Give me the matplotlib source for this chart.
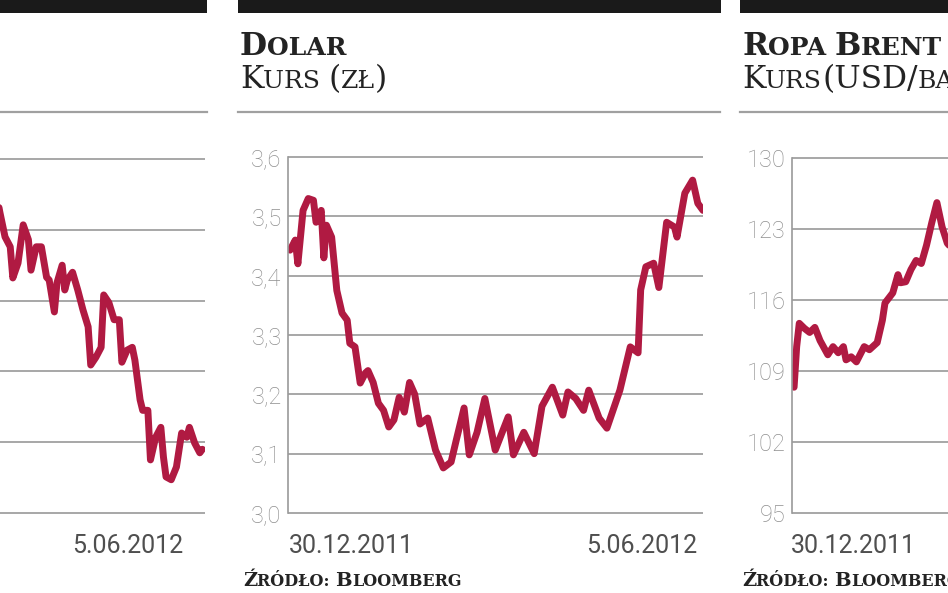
import matplotlib
matplotlib.use("Agg")
import matplotlib.pyplot as plt
from matplotlib.patches import Rectangle
from matplotlib.lines import Line2D

# ---------------- data (days since 30.12.2011) ----------------
left_days = [79, 80, 82, 84, 85, 87, 89, 91, 92, 94, 96, 98, 99, 101, 102, 104, 105, 106,
             108, 110, 112, 114, 115, 117, 119, 120, 122, 124, 126, 127, 129, 131, 132,
             134, 135, 137, 138, 140, 142, 143, 144, 146, 148, 150, 152, 153, 155, 157, 158]
left_values = [4.45, 4.25, 3.9, 3.76, 3.32, 3.53, 4.07, 3.86, 3.43, 3.76, 3.76, 3.33, 3.29,
               2.84, 3.25, 3.5, 3.15, 3.29, 3.4, 3.15, 2.87, 2.63, 2.09, 2.2, 2.34, 3.08,
               2.97, 2.73, 2.73, 2.13, 2.3, 2.34, 2.16, 1.6, 1.45, 1.45, 0.75, 1.07, 1.21,
               0.79, 0.51, 0.47, 0.65, 1.13, 1.07, 1.21, 0.99, 0.85, 0.9]
left_ticks = [0, 1, 2, 3, 4, 5]

usd_days = [0, 2, 3, 5, 7, 9, 10, 12, 13, 14, 16, 18, 20, 22, 23, 25, 27, 29, 30, 32, 34,
            36, 38, 40, 42, 44, 46, 48, 50, 53, 56, 59, 62, 64, 67, 69, 72, 75, 79, 84, 86,
            90, 94, 97, 101, 105, 107, 110, 113, 115, 119, 122, 127, 131, 134, 135, 137,
            140, 142, 145, 148, 149, 152, 155, 157, 159]
usd_values = [3.443, 3.46, 3.42, 3.51, 3.53, 3.527, 3.49, 3.51, 3.43, 3.485, 3.465, 3.375,
              3.337, 3.325, 3.286, 3.28, 3.219, 3.236, 3.24, 3.22, 3.185, 3.173, 3.145,
              3.157, 3.195, 3.17, 3.22, 3.2, 3.15, 3.16, 3.106, 3.076, 3.086, 3.123, 3.177,
              3.098, 3.136, 3.193, 3.106, 3.162, 3.098, 3.136, 3.1, 3.18, 3.212, 3.165,
              3.204, 3.193, 3.173, 3.207, 3.16, 3.143, 3.207, 3.28, 3.27, 3.376, 3.415,
              3.421, 3.38, 3.49, 3.482, 3.465, 3.539, 3.561, 3.522, 3.51]
usd_ticks = [3.0, 3.1, 3.2, 3.3, 3.4, 3.5, 3.6]
usd_labels = ["3,0", "3,1", "3,2", "3,3", "3,4", "3,5", "3,6"]

brent_days = [0, 1, 2, 4, 6, 8, 10, 13, 15, 17, 19, 20, 22, 24, 27, 29, 32, 34, 35, 38,
              40, 41, 43, 45, 47, 49, 51, 53, 55, 57, 59, 61]
brent_values = [107.4, 111.4, 113.7, 113.2, 112.8, 113.3, 112.0, 110.6, 111.4, 110.8,
                111.4, 110.1, 110.4, 109.9, 111.4, 111.1, 111.8, 114.0, 115.7, 116.7,
                118.5, 117.7, 117.8, 119.0, 119.9, 119.6, 121.4, 123.6, 125.6, 123.2,
                121.6, 121.0]
brent_ticks = [95, 102, 109, 116, 123, 130]

date_start = "30.12.2011"
date_end = "5.06.2012"

# ---------------- figure ----------------
W, H = 948, 593
fig = plt.figure(figsize=(W / 100, H / 100), dpi=100)
fig.patch.set_facecolor("white")

RED = "#b01a42"
GRID = "#8f8f8f"
TICKC = "#8f8f8f"
DATEC = "#4f4f4f"
TXT = "#232323"
SERIF = ["DejaVu Serif"]
SANS = ["Roboto", "DejaVu Sans"]


def rect_px(x0, y0, x1, y1, color):
    fig.add_artist(Rectangle((x0 / W, 1 - y1 / H), (x1 - x0) / W, (y1 - y0) / H,
                             transform=fig.transFigure, color=color, lw=0))


def hline_px(x0, x1, y, color, lw):
    fig.add_artist(Line2D([x0 / W, x1 / W], [1 - y / H, 1 - y / H],
                          transform=fig.transFigure, color=color, lw=lw))


renderer = fig.canvas.get_renderer()


def runs(x_px, y_px, parts, color=TXT, spacing=0.0):
    x = x_px
    for s, size, weight in parts:
        t = fig.text(x / W, 1 - y_px / H, s, fontsize=size, fontweight=weight,
                     family=SERIF, color=color, va="baseline", ha="left")
        bb = t.get_window_extent(renderer=renderer)
        x += bb.width + spacing


def panel(x0, x1, ytop, ybot, days, values, ticks, labels, spine=True):
    pad = 8
    ax = fig.add_axes([x0 / W, 1 - (ybot + pad) / H, (x1 - x0) / W,
                       (ybot - ytop + 2 * pad) / H])
    lo, hi = ticks[0], ticks[-1]
    dpad = (hi - lo) * pad / (ybot - ytop)
    ax.set_ylim(lo - dpad, hi + dpad)
    ax.set_xlim(-0.8, 159)
    ax.set_yticks(ticks)
    if labels is None:
        ax.set_yticklabels([])
    else:
        ax.set_yticklabels(labels, family=SANS, fontweight="light", fontsize=17,
                           color=TICKC)
    ax.set_xticks([])
    ax.tick_params(axis="y", length=0, pad=4.5)
    for s in ["top", "right", "bottom"]:
        ax.spines[s].set_visible(False)
    if spine:
        ax.spines["left"].set_bounds(lo, hi)
        ax.spines["left"].set_color("#9a9a9a")
        ax.spines["left"].set_linewidth(1.2)
    else:
        ax.spines["left"].set_visible(False)
    ax.grid(axis="y", color=GRID, lw=1.1)
    ax.set_axisbelow(True)
    ax.patch.set_alpha(0)
    ax.plot(days, values, color=RED, lw=5.0, solid_joinstyle="round",
            solid_capstyle="round", clip_on=True)
    return ax


# black header bars and separators
rect_px(0, 0, 207, 13, "#1a1a1a")
rect_px(238, 0, 721, 13, "#1a1a1a")
rect_px(740, 0, 960, 13, "#1a1a1a")
hline_px(0, 207, 112, "#a0a0a0", 1.6)
hline_px(238, 720, 112, "#a0a0a0", 1.6)
hline_px(740, 960, 112, "#a0a0a0", 1.6)

panel(-210, 205, 159, 513, left_days, left_values, left_ticks, None, spine=False)
panel(288, 703, 157, 513, usd_days, usd_values, usd_ticks, usd_labels)
panel(792, 1207, 158, 513, brent_days, brent_values, brent_ticks,
      [str(t) for t in brent_ticks])

# titles
runs(240, 55, [("D", 22.5, "bold"), ("OLAR", 18, "bold")])
runs(240, 88, [("K", 22.5, "normal"), ("URS ", 18, "normal"), ("(", 22.5, "normal"),
               ("ZŁ", 18, "normal"), (")", 22.5, "normal")])
runs(742, 55, [("R", 22.5, "bold"), ("OPA ", 18, "bold"), ("B", 22.5, "bold"),
               ("RENT", 18, "bold")])
runs(742, 88, [("K", 22.5, "normal"), ("URS", 18, "normal"), ("(USD/", 22.5, "normal"),
               ("BARYŁKA", 18, "normal"), (")", 22.5, "normal")])

# source
src = [("Ź", 14, "bold"), ("RÓDŁO: ", 11.5, "bold"), ("B", 14, "bold"),
       ("LOOMBERG", 11.5, "bold")]
runs(243, 586, src)
runs(742, 586, src)

# date labels
def date_text(x_px, s, ha):
    fig.text(x_px / W, 1 - 553 / H, s, fontsize=18, family=SANS, fontweight="normal",
             color=DATEC, ha=ha, va="baseline")

date_text(183, date_end, "right")
date_text(289, date_start, "left")
date_text(697, date_end, "right")
date_text(791, date_start, "left")

fig.savefig("out.png", dpi=100)
